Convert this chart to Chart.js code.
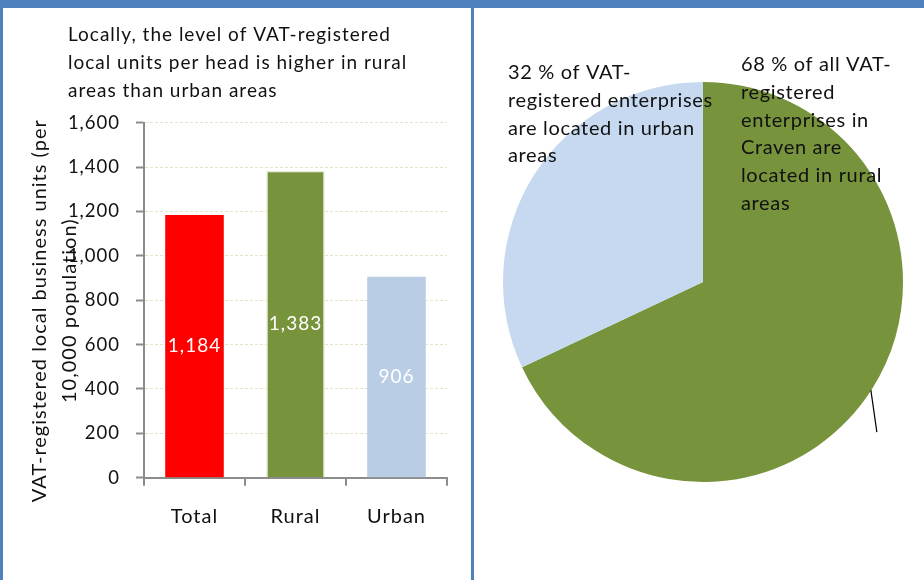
<!DOCTYPE html>
<html>
<head>
<meta charset="utf-8">
<script src="https://cdn.jsdelivr.net/npm/chart.js@4/dist/chart.umd.min.js"></script>
<style>
  html, body { margin: 0; padding: 0; background: #fff; }
  body { width: 924px; height: 580px; position: relative; overflow: hidden; }
  .bar-top { position: absolute; left: 0; top: 0; width: 924px; height: 8px; background: #4f81bd; }
  .edge-left { position: absolute; left: 0; top: 0; width: 3px; height: 580px; background: #4f81bd; }
  .divider { position: absolute; left: 471px; top: 0; width: 3px; height: 580px; background: #4f81bd; }
  #barWrap { position: absolute; left: 3px; top: 8px; width: 468px; height: 572px; }
  #pieWrap { position: absolute; left: 474px; top: 8px; width: 450px; height: 572px; }
</style>
</head>
<body>
<div class="bar-top"></div>
<div class="edge-left"></div>
<div class="divider"></div>
<div id="barWrap"><canvas id="barChart" width="468" height="572"></canvas></div>
<div id="pieWrap"><canvas id="pieChart" width="450" height="572"></canvas></div>
<script>
// bar chart data
const barCategories = ['Total', 'Rural', 'Urban'];
const barValues = [1184, 1383, 906];
const barColors = ['#ff0000', '#77933c', '#b9cde5'];
const yMin = 0;
const yMax = 1600;
const yStep = 200;
const barTitle = ['Locally, the level of VAT-registered', 'local units per head is higher in rural', 'areas than urban areas'];
const yTitle = ['VAT-registered local business units (per', '10,000 population)'];

// pie chart data
const pieCategories = ['Rural', 'Urban'];
const pieValues = [68, 32];
const pieColors = ['#77933c', '#c6d9f1'];
const ruralText = ['68 % of all VAT-', 'registered', 'enterprises in', 'Craven are', 'located in rural', 'areas'];
const urbanText = ['32 % of VAT-', 'registered enterprises', 'are located in urban', 'areas'];

const FONT = 'Lato, "Open Sans", sans-serif';
const TEXT = '#111111';

Chart.defaults.font.family = FONT;
Chart.defaults.color = TEXT;

// wider letter spacing, the original text is spaced out like that
const spacingPlugin = {
    id: 'spacing',
    beforeDraw(chart) {
        chart.ctx.letterSpacing = '1px';
    }
};

// draws title, rotated axis title and the value labels inside the bars
const barTextPlugin = {
    id: 'barText',
    afterDraw(chart) {
        const ctx = chart.ctx;
        ctx.save();
        ctx.letterSpacing = '1px';
        ctx.fillStyle = TEXT;
        ctx.font = '19px ' + FONT;
        ctx.textAlign = 'left';
        ctx.textBaseline = 'alphabetic';
        barTitle.forEach((line, i) => ctx.fillText(line, 65, 33 + i * 28));

        ctx.font = '20px ' + FONT;
        ctx.translate(0, chart.chartArea.top + 188);
        ctx.rotate(-Math.PI / 2);
        ctx.textAlign = 'center';
        ctx.textBaseline = 'middle';
        ctx.fillText(yTitle[0], 0, 37);
        ctx.fillText(yTitle[1], 0, 67);
        ctx.restore();

        ctx.save();
        ctx.letterSpacing = '1px';
        ctx.fillStyle = '#ffffff';
        ctx.font = '19px ' + FONT;
        ctx.textAlign = 'center';
        ctx.textBaseline = 'middle';
        chart.getDatasetMeta(0).data.forEach((bar, i) => {
            ctx.fillText(barValues[i].toLocaleString('en-US'), bar.x, (bar.y + bar.base) / 2);
        });
        ctx.restore();
    }
};

new Chart(document.getElementById('barChart'), {
    type: 'bar',
    data: {
        labels: barCategories,
        datasets: [{
            data: barValues,
            backgroundColor: barColors,
            borderColor: ['#ff0000', '#e6ebd6', '#b9cde5'],
            borderWidth: [0, 1.5, 0],
            barPercentage: 0.58,
            categoryPercentage: 1
        }]
    },
    options: {
        responsive: false,
        animation: false,
        layout: { padding: { left: 0, top: 114.7, right: 24, bottom: 0 } },
        plugins: { legend: { display: false }, tooltip: { enabled: false } },
        scales: {
            x: {
                afterFit(scale) { scale.height = 102.3; },
                border: { color: '#8c8c8c', width: 2 },
                grid: { offset: true, drawOnChartArea: false, tickLength: 8, tickColor: '#8c8c8c', lineWidth: 2 },
                ticks: { font: { size: 20 }, color: TEXT, padding: 18.5 }
            },
            y: {
                min: yMin,
                max: yMax,
                afterFit(scale) { scale.width = 141; },
                border: { color: '#8c8c8c', width: 2, dash: [3, 2] },
                grid: { color: '#e4e4cc', lineWidth: 1, tickLength: 8, tickColor: '#8c8c8c', tickWidth: 2 },
                ticks: {
                    stepSize: yStep,
                    font: { size: 18.5 },
                    color: TEXT,
                    padding: 16,
                    callback: v => v.toLocaleString('en-US')
                }
            }
        }
    },
    plugins: [spacingPlugin, barTextPlugin]
});

// pie text boxes and the leader line
const pieTextPlugin = {
    id: 'pieText',
    afterDraw(chart) {
        const ctx = chart.ctx;
        const arc = chart.getDatasetMeta(0).data[0];
        const mid = (arc.startAngle + arc.endAngle) / 2;
        const px = arc.x + Math.cos(mid) * arc.outerRadius;
        const py = arc.y + Math.sin(mid) * arc.outerRadius;
        ctx.save();
        ctx.strokeStyle = '#000000';
        ctx.lineWidth = 1.2;
        ctx.beginPath();
        ctx.moveTo(px - 1, py + 1);
        ctx.lineTo(px + 5, py + 43);
        ctx.stroke();

        ctx.letterSpacing = '0.65px';
        ctx.fillStyle = TEXT;
        ctx.font = '20px ' + FONT;
        ctx.textAlign = 'left';
        ctx.textBaseline = 'alphabetic';
        urbanText.forEach((line, i) => ctx.fillText(line, 34, 71 + i * 27.8));
        ruralText.forEach((line, i) => ctx.fillText(line, 267, 63 + i * 27.8));
        ctx.restore();
    }
};

new Chart(document.getElementById('pieChart'), {
    type: 'pie',
    data: {
        labels: pieCategories,
        datasets: [{
            data: pieValues,
            backgroundColor: pieColors,
            borderWidth: 0
        }]
    },
    options: {
        responsive: false,
        animation: false,
        layout: { padding: { left: 29, right: 21, top: 74, bottom: 98 } },
        plugins: { legend: { display: false }, tooltip: { enabled: false } }
    },
    plugins: [pieTextPlugin]
});
</script>
</body>
</html>
